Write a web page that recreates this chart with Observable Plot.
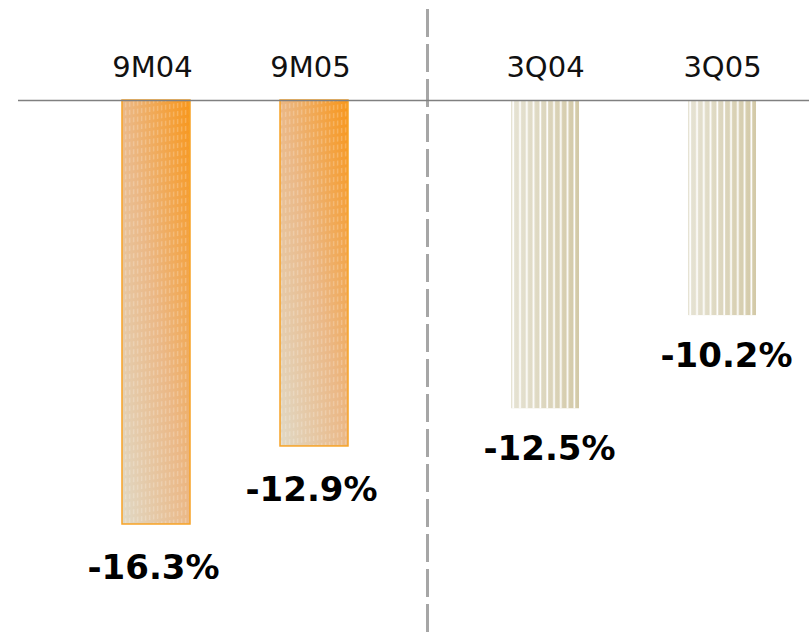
<!DOCTYPE html>
<html><head><meta charset="utf-8">
<script src="https://cdn.jsdelivr.net/npm/d3@7"></script>
<script src="https://cdn.jsdelivr.net/npm/@observablehq/plot@0.6"></script>
<style>
body{margin:0;background:#fff}
#chart{display:flex;width:809px;height:640px;background:#fff}
#chart svg{display:block;overflow:visible;background:transparent}
</style>
</head><body><div id="chart"></div>
<script>
// Nine-month comparison (left of the divider)
const leftPeriods = ["9M04", "9M05"];
const leftLabels = ["-16.3%", "-12.9%"];
const leftBarValues = [-16.3, -13.3];   // bar lengths

// Third-quarter comparison (right of the divider)
const rightPeriods = ["3Q04", "3Q05"];
const rightLabels = ["-12.5%", "-10.2%"];
const rightBarValues = [-11.85, -8.27]; // bar lengths

const yDomain = [0, -16.3];

const left = leftPeriods.map((p, i) => ({period: p, value: leftBarValues[i], label: leftLabels[i]}));
const right = rightPeriods.map((p, i) => ({period: p, value: rightBarValues[i], label: rightLabels[i]}));

const font = "DejaVu Sans, Verdana, sans-serif";

const leftPlot = Plot.plot({
  width: 427, height: 640,
  marginTop: 10, marginBottom: 8, marginLeft: 18, marginRight: 0,
  style: {fontFamily: font, background: "transparent", overflow: "visible"},
  x: {domain: leftPeriods, range: [121.5, 348.5], paddingInner: 0.5723, paddingOuter: 0, axis: null},
  y: {domain: yDomain, range: [100, 524], axis: null},
  marks: [
    Plot.frame({anchor: "right", stroke: "#a6a6a6", strokeWidth: 3, strokeDasharray: "25,10"}),
    Plot.barY(left, {x: "period", y: "value", fill: "url(#gradOrange)", stroke: "#f7a326", strokeWidth: 1.5}),
    Plot.barY(left, {x: "period", y: "value", fill: "url(#texOrange)", inset: 1}),
    Plot.ruleY([0], {stroke: "#808080", strokeWidth: 1.5}),
    Plot.text(left, {x: "period", y: () => 0, text: "period", dx: -4, dy: -33, fontSize: 29, lineAnchor: "middle", fill: "#111"}),
    Plot.text(left, {x: "period", y: "value", text: "label", dx: -3, dy: 44, fontSize: 34, fontWeight: "bold", lineAnchor: "middle", fill: "#000"})
  ]
});

const rightPlot = Plot.plot({
  width: 382, height: 640,
  marginTop: 10, marginBottom: 8, marginLeft: 0, marginRight: 0,
  style: {fontFamily: font, background: "transparent", overflow: "visible"},
  x: {domain: rightPeriods, range: [84, 329.5], paddingInner: 0.617, paddingOuter: 0, axis: null},
  y: {domain: yDomain, range: [100, 524], axis: null},
  marks: [
    Plot.barY(right, {x: "period", y: "value", fill: "url(#gradBeige)"}),
    Plot.barY(right, {x: "period", y: "value", fill: "url(#stripes)"}),
    Plot.ruleY([0], {stroke: "#808080", strokeWidth: 1.5}),
    Plot.text(right, {x: "period", y: () => 0, text: "period", dy: -33, fontSize: 29, lineAnchor: "middle", fill: "#111"}),
    Plot.text(right, {x: "period", y: "value", text: "label", dx: 4, dy: 40, fontSize: 34, fontWeight: "bold", lineAnchor: "middle", fill: "#000"})
  ]
});

// gradient / texture definitions
const defsL = d3.select(leftPlot).insert("defs", ":first-child");
const g1 = defsL.append("linearGradient").attr("id", "gradOrange")
  .attr("x1", 0).attr("y1", 1).attr("x2", 1).attr("y2", 0);
g1.append("stop").attr("offset", "0%").attr("stop-color", "#e0d9c6");
g1.append("stop").attr("offset", "50%").attr("stop-color", "#ebb886");
g1.append("stop").attr("offset", "100%").attr("stop-color", "#f8961a");
const tex = defsL.append("pattern").attr("id", "texOrange")
  .attr("patternUnits", "userSpaceOnUse").attr("width", 4).attr("height", 8)
  .attr("patternTransform", "skewY(-8)");
tex.append("rect").attr("x", 1).attr("y", 0).attr("width", 1.2).attr("height", 5)
  .attr("fill", "#fff").attr("fill-opacity", 0.28);

const defsR = d3.select(rightPlot).insert("defs", ":first-child");
const g2 = defsR.append("linearGradient").attr("id", "gradBeige")
  .attr("x1", 0).attr("y1", 0).attr("x2", 1).attr("y2", 0);
g2.append("stop").attr("offset", "0%").attr("stop-color", "#e6e3d4");
g2.append("stop").attr("offset", "100%").attr("stop-color", "#d3c9a7");
const st = defsR.append("pattern").attr("id", "stripes")
  .attr("patternUnits", "objectBoundingBox").attr("patternContentUnits", "objectBoundingBox")
  .attr("width", 0.1).attr("height", 1);
st.append("rect").attr("x", 0.02).attr("y", 0).attr("width", 0.025).attr("height", 1).attr("fill", "#fff");

document.getElementById("chart").append(leftPlot, rightPlot);
</script>
</body></html>
